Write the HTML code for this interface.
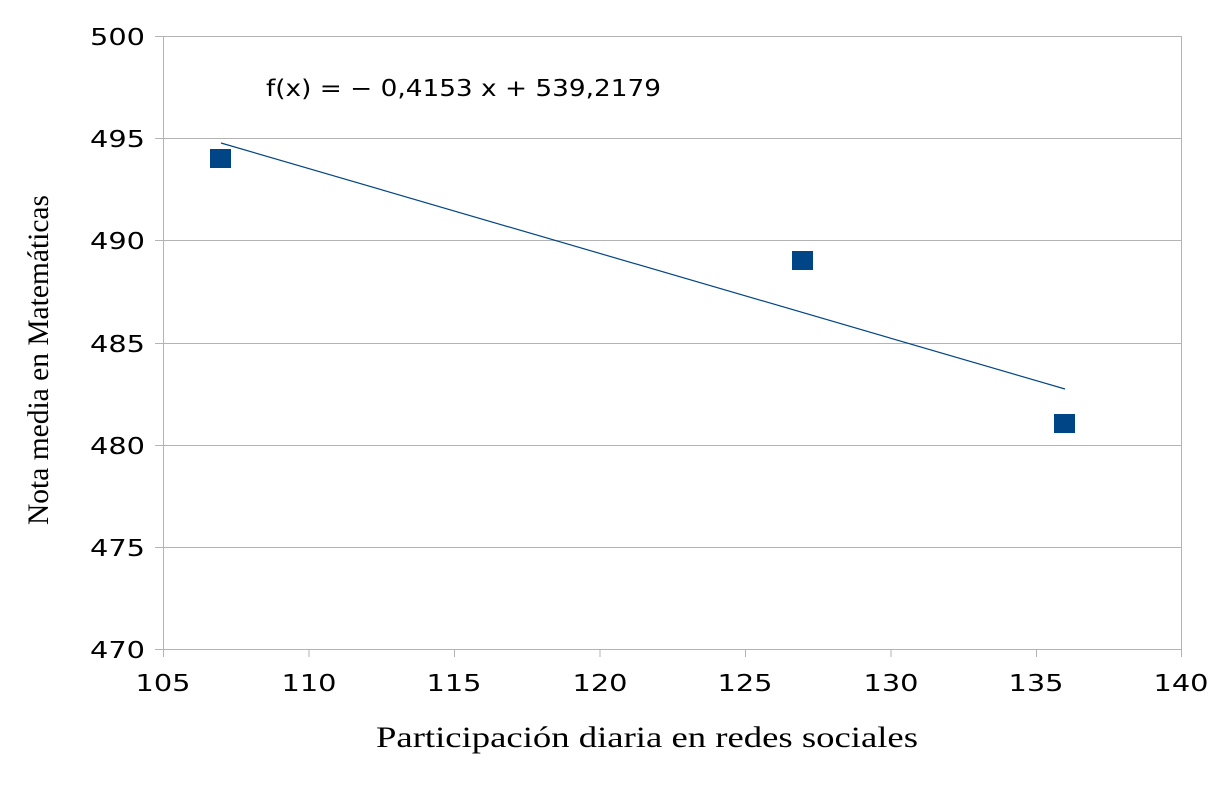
<!DOCTYPE html>
<html><head><meta charset="utf-8"><style>
html,body{margin:0;padding:0;background:#fff;}
svg{display:block;}
.t{font-family:"DejaVu Sans","Liberation Sans",sans-serif;font-size:23px;fill:#000;}
.s{font-family:"Liberation Serif",serif;font-size:30px;fill:#000;}
</style></head><body>
<svg width="1231" height="812" viewBox="0 0 1231 812" xmlns="http://www.w3.org/2000/svg">
<rect width="1231" height="812" fill="#fff"/>
<g stroke="#b3b3b3" stroke-width="1">
<line x1="163" y1="36.5" x2="1182" y2="36.5"/>
<line x1="163" y1="138.5" x2="1182" y2="138.5"/>
<line x1="163" y1="240.5" x2="1182" y2="240.5"/>
<line x1="163" y1="343.5" x2="1182" y2="343.5"/>
<line x1="163" y1="445.5" x2="1182" y2="445.5"/>
<line x1="163" y1="547.5" x2="1182" y2="547.5"/>
<line x1="163" y1="649.5" x2="1182" y2="649.5"/>
<line x1="163.5" y1="36" x2="163.5" y2="649"/>
<line x1="1181.5" y1="36" x2="1181.5" y2="649"/>
<line x1="155" y1="36.5" x2="163" y2="36.5"/>
<line x1="155" y1="138.5" x2="163" y2="138.5"/>
<line x1="155" y1="240.5" x2="163" y2="240.5"/>
<line x1="155" y1="343.5" x2="163" y2="343.5"/>
<line x1="155" y1="445.5" x2="163" y2="445.5"/>
<line x1="155" y1="547.5" x2="163" y2="547.5"/>
<line x1="155" y1="649.5" x2="163" y2="649.5"/>
<line x1="163.5" y1="649" x2="163.5" y2="657"/>
<line x1="309" y1="649" x2="309" y2="657"/>
<line x1="454.5" y1="649" x2="454.5" y2="657"/>
<line x1="600" y1="649" x2="600" y2="657"/>
<line x1="745.5" y1="649" x2="745.5" y2="657"/>
<line x1="891" y1="649" x2="891" y2="657"/>
<line x1="1036.5" y1="649" x2="1036.5" y2="657"/>
<line x1="1181.5" y1="649" x2="1181.5" y2="657"/>
</g>
<g class="t" text-anchor="end">
<text x="145" y="45" textLength="55" lengthAdjust="spacingAndGlyphs">500</text>
<text x="145" y="147" textLength="55" lengthAdjust="spacingAndGlyphs">495</text>
<text x="145" y="249" textLength="55" lengthAdjust="spacingAndGlyphs">490</text>
<text x="145" y="352" textLength="55" lengthAdjust="spacingAndGlyphs">485</text>
<text x="145" y="454" textLength="55" lengthAdjust="spacingAndGlyphs">480</text>
<text x="145" y="556" textLength="55" lengthAdjust="spacingAndGlyphs">475</text>
<text x="145" y="658" textLength="55" lengthAdjust="spacingAndGlyphs">470</text>
</g>
<g class="t" text-anchor="middle">
<text x="163" y="691" textLength="55" lengthAdjust="spacingAndGlyphs">105</text>
<text x="309" y="691" textLength="55" lengthAdjust="spacingAndGlyphs">110</text>
<text x="454" y="691" textLength="55" lengthAdjust="spacingAndGlyphs">115</text>
<text x="600" y="691" textLength="55" lengthAdjust="spacingAndGlyphs">120</text>
<text x="745" y="691" textLength="55" lengthAdjust="spacingAndGlyphs">125</text>
<text x="891" y="691" textLength="55" lengthAdjust="spacingAndGlyphs">130</text>
<text x="1036" y="691" textLength="55" lengthAdjust="spacingAndGlyphs">135</text>
<text x="1181" y="691" textLength="55" lengthAdjust="spacingAndGlyphs">140</text>
</g>
<line x1="221" y1="143" x2="1065" y2="389" stroke="#004586" stroke-width="1.2"/>
<g fill="#004586">
<rect x="210" y="149" width="21" height="19"/>
<rect x="792" y="251" width="21" height="19"/>
<rect x="1054" y="414" width="21" height="19"/>
</g>
<text class="t" x="266" y="96" textLength="395" lengthAdjust="spacingAndGlyphs">f(x) = − 0,4153 x + 539,2179</text>
<text class="s" x="376" y="747" textLength="542" lengthAdjust="spacingAndGlyphs">Participación diaria en redes sociales</text>
<text class="s" transform="translate(48,525) rotate(-90)" textLength="330" lengthAdjust="spacingAndGlyphs">Nota media en Matemáticas</text>
</svg>
</body></html>
